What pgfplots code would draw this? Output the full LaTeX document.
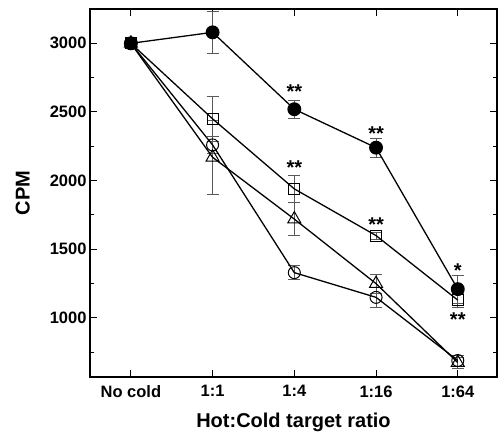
\documentclass[border=0pt]{standalone}
\usepackage{fontspec}
\setmainfont{Liberation Sans}
\usepackage{pgfplots}
\pgfplotsset{compat=1.18}
\usepackage{pgfplotstable}

\pgfplotstableread{
x y ey
0 3000 0
1 3080 150
2 2520 65
3 2240 70
4 1210 100
}\tabFilled
\pgfplotstableread{
x y ey
0 3000 0
1 2450 165
2 1940 100
3 1600 25
4 1130 50
}\tabSquare
\pgfplotstableread{
x y ey
0 3000 0
1 2260 60
2 1330 50
3 1150 75
4 690 40
}\tabCirc
\pgfplotstableread{
x y ey
0 3000 0
1 2170 270
2 1720 120
3 1250 70
4 675 40
}\tabTri

\pgfplotsset{errplot/.style={draw=none, mark=none, forget plot,
    error bars/.cd, y dir=both, y explicit,
    error bar style={gray!70!black, line width=0.6pt},
    error mark options={rotate=90, mark size=6bp, gray!70!black, line width=0.6pt}}}

\begin{document}
\begin{tikzpicture}
\begin{axis}[
  at={(90bp,59bp)}, anchor=south west,
  scale only axis, width=407bp, height=368bp,
  xmin=-0.5, xmax=4.48, ymin=570, ymax=3250,
  xtick={0,1,2,3,4},
  xticklabels={No cold,1:1,1:4,1:16,1:64},
  ytick={1000,1500,2000,2500,3000},
  minor ytick={750,1250,1750,2250,2750,3250},
  tick align=inside,
  major tick length=7bp, minor tick length=4bp,
  every tick/.style={black, line width=1pt},
  axis line style={line width=1.2pt},
  /pgf/number format/assume math mode=true,
  /pgf/number format/1000 sep={},
  ticklabel style={font=\fontsize{16.5bp}{18bp}\selectfont\bfseries},
  xticklabel style={yshift=-5bp},
  xlabel={Hot:Cold target ratio},
  ylabel={CPM},
  label style={font=\fontsize{20bp}{22bp}\selectfont\bfseries},
  xlabel style={at={(axis description cs:0.5,-0.122)}, anchor=center},
  ylabel style={at={(axis description cs:-0.165,0.5)}, anchor=center},
  clip=false,
]
% error bars
\addplot[errplot] table[x=x, y=y, y error=ey] {\tabFilled};
\addplot[errplot] table[x=x, y=y, y error=ey] {\tabSquare};
\addplot[errplot] table[x=x, y=y, y error=ey] {\tabCirc};
\addplot[errplot] table[x=x, y=y, y error=ey] {\tabTri};
\addplot[black, line width=1.3pt, mark=o, mark size=6bp, mark options={fill=white, line width=1pt}] table[x=x,y=y] {\tabCirc};
\addplot[black, line width=1.3pt, mark=triangle, mark size=7.5bp, mark options={fill=white, line width=1pt}] table[x=x,y=y] {\tabTri};
\addplot[black, line width=1.3pt, mark=square, mark size=5.5bp, mark options={fill=white, line width=1pt}] table[x=x,y=y] {\tabSquare};
\addplot[black, line width=1.3pt, mark=*, mark size=6.3bp, mark options={fill=black}] table[x=x,y=y] {\tabFilled};
% significance
\begin{scope}[every node/.style={font=\fontsize{20bp}{22bp}\selectfont\bfseries, anchor=base, inner sep=0pt}]
\node at (axis cs:2,2600) {**};
\node at (axis cs:3,2295) {**};
\node at (axis cs:2,2045) {**};
\node at (axis cs:3,1630) {**};
\node at (axis cs:4,1295) {*};
\node at (axis cs:4,935) {**};
\end{scope}
\end{axis}
\pgfresetboundingbox
\useasboundingbox (0,0) rectangle (498bp,436bp);
\end{tikzpicture}
\end{document}
